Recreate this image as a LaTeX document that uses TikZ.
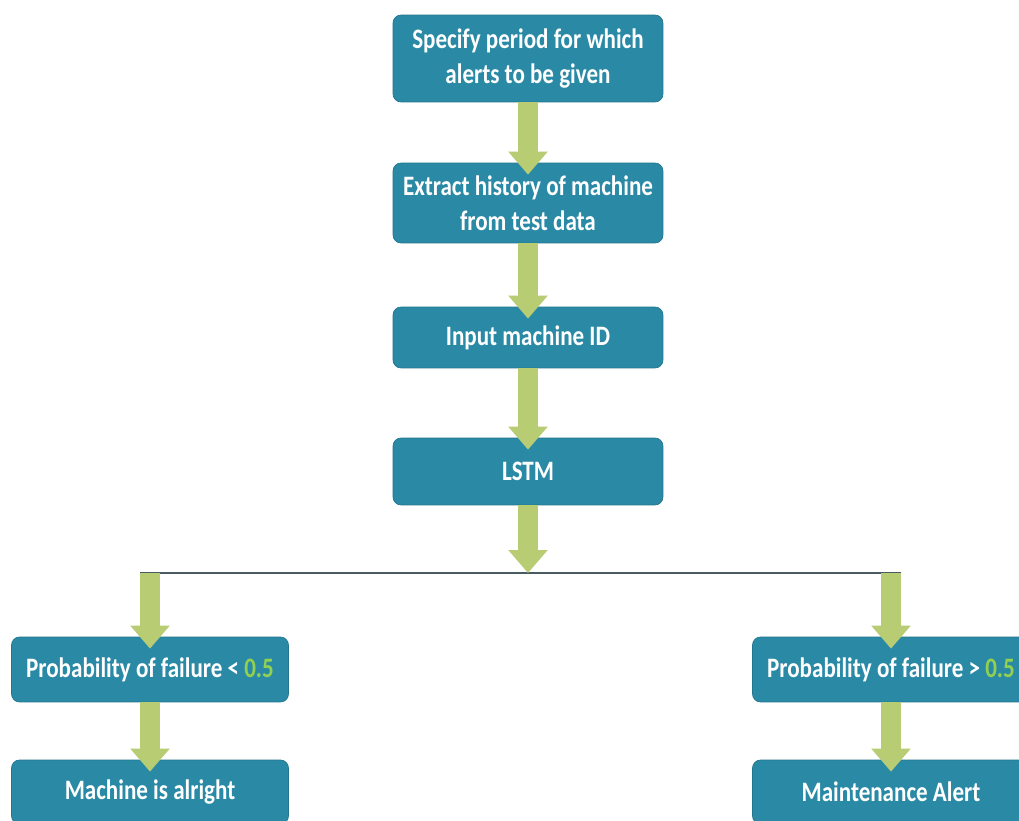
\documentclass[tikz,border=0pt]{standalone}
\usepackage{fontspec}
\setmainfont{Carlito}[FakeStretch=0.82]
\usetikzlibrary{arrows.meta}
\definecolor{boxteal}{RGB}{42,138,166}
\definecolor{boxedge}{RGB}{34,118,143}
\definecolor{arrowgreen}{RGB}{184,204,115}
\definecolor{halfgreen}{RGB}{146,208,80}
\definecolor{splitgray}{RGB}{72,92,98}
\tikzset{
  stepbox/.style={rectangle,rounded corners=0.16cm,fill=boxteal,draw=boxedge,
    text=white,align=center,inner sep=0pt,
    font=\fontsize{16}{20}\selectfont\bfseries},
  fatarrow/.style={draw=arrowgreen,line width=0.4cm,
    -{Triangle[width=0.76cm,length=0.46cm]}}
}
\begin{document}
\begin{tikzpicture}[x=0.02cm,y=-0.02cm]
  \clip (0,0) rectangle (1019,821);
  \fill[white] (0,0) rectangle (1019,821);
  % main column
  \node[stepbox,minimum width=5.4cm,minimum height=1.74cm] (spec) at (528,58.5)
    {Specify period for which\\alerts to be given};
  \node[stepbox,minimum width=5.4cm,minimum height=1.6cm] (extract) at (528,203)
    {Extract history of machine\\from test data};
  \node[stepbox,minimum width=5.4cm,minimum height=1.22cm] (inputid) at (528,337.5)
    {Input machine ID};
  \node[stepbox,minimum width=5.4cm,minimum height=1.34cm] (lstm) at (528,471.5)
    {LSTM};
  \coordinate (split) at (528,573);
  % two outcomes
  \node[stepbox,minimum width=5.54cm,minimum height=1.3cm] (problow) at (150,669.5)
    {Probability of failure < \textcolor{halfgreen}{0.5}};
  \node[stepbox,minimum width=5.54cm,minimum height=1.28cm] (okay) at (150,792)
    {Machine is alright};
  \node[stepbox,minimum width=5.54cm,minimum height=1.3cm] (probhigh) at (891,669.5)
    {Probability of failure > \textcolor{halfgreen}{0.5}};
  \node[stepbox,minimum width=5.54cm,minimum height=1.28cm] (alert) at (891,792)
    {Maintenance Alert};
  \coordinate (splitl) at ([xshift=-0.2cm]problow.north |- split);
  \coordinate (splitr) at ([xshift=0.2cm]probhigh.north |- split);
  \draw[splitgray,line width=0.8pt] (splitl) -- (splitr);
  % arrows
  \draw[fatarrow] (spec.south) -- ([yshift=-0.24cm]extract.north);
  \draw[fatarrow] (extract.south) -- ([yshift=-0.24cm]inputid.north);
  \draw[fatarrow] (inputid.south) -- ([yshift=-0.24cm]lstm.north);
  \draw[fatarrow] (lstm.south) -- (split);
  \draw[fatarrow] (problow.north |- split) -- ([yshift=-0.24cm]problow.north);
  \draw[fatarrow] (probhigh.north |- split) -- ([yshift=-0.24cm]probhigh.north);
  \draw[fatarrow] (problow.south) -- ([yshift=-0.24cm]okay.north);
  \draw[fatarrow] (probhigh.south) -- ([yshift=-0.24cm]alert.north);
\end{tikzpicture}
\end{document}
